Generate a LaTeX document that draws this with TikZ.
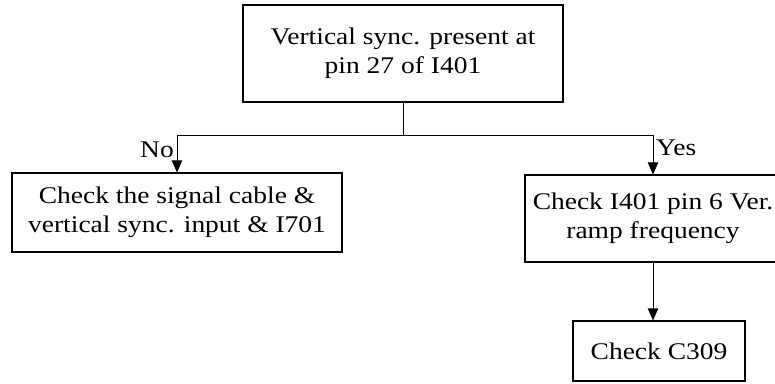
\documentclass[tikz,border=0pt]{standalone}
\usepackage{fontspec}
\setmainfont{Liberation Serif}[FakeStretch=1.15]
\usetikzlibrary{arrows.meta,positioning}
\tikzset{
  tb text/.style={font=\fontsize{17}{20.5}\selectfont, text=black},
  tb box/.style={draw=black, line width=0.8pt, fill=white, align=center,
    inner sep=0pt, font=\fontsize{17}{20.5}\selectfont},
  tb line/.style={draw=black, line width=0.6pt},
  tb arrow/.style={tb line, -{Triangle[length=3mm,width=2.6mm]}},
  tb label/.style={font=\fontsize{17}{20}\selectfont, inner sep=2pt}
}

\begin{document}
\begin{tikzpicture}[tb text, x=0.025cm, y=-0.025cm]
  \clip (0,0) rectangle (775,383);
  \node[tb box, minimum width=8cm, minimum height=2.425cm] (sync) at (403,53.5)
    {Vertical sync. present at\\pin 27 of I401};
  \node[tb box, minimum width=8.25cm, minimum height=1.975cm] (cable) at (177,212.5)
    {Check the signal cable \&\\vertical sync. input \& I701};
  \node[tb box, minimum width=6.4cm, minimum height=2.175cm] (ramp) at (653,218.5)
    {Check I401 pin 6 Ver.\\ramp frequency};
  \node[tb box, minimum width=4.3cm, minimum height=1.5cm] (cap) at (659,351)
    {Check C309};
  % branch
  \coordinate (split) at (403,135);
  \draw[tb line] (sync) -- (split);
  \draw[tb arrow] (split) -| node[tb label, pos=0.7, left] {No} (cable);
  \draw[tb arrow] (split) -| node[tb label, pos=0.66, right] {Yes} (ramp);
  \draw[tb arrow] (ramp.south) -- (ramp.south |- cap.north);
\end{tikzpicture}
\end{document}
